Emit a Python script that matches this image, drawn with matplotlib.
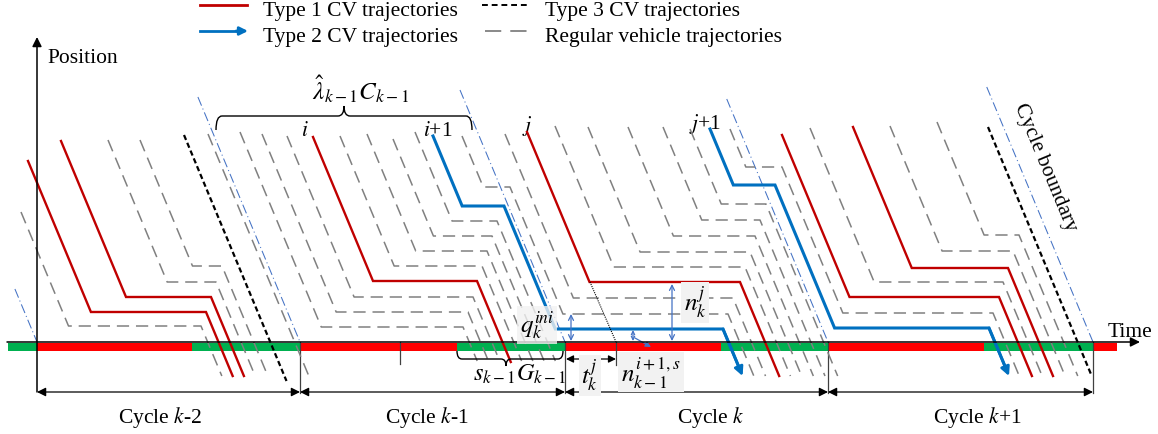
import matplotlib
matplotlib.use("Agg")
import matplotlib.pyplot as plt
from matplotlib.path import Path
from matplotlib.patches import PathPatch

plt.rcParams["font.family"] = ["Liberation Serif", "DejaVu Serif"]
plt.rcParams["mathtext.fontset"] = "stix"

W, H = 1158, 435
STOP_Y = 343        # stop line, drawn as the time axis
SLOPE = 2.4         # free-flow slope of every trajectory (drawing units)
FS = 15.5
MFS = 18            # size of the math annotations

# ---- signal plan along the time axis -------------------------------------
phase_start = [8, 37, 192, 300, 457, 565, 721, 828, 984, 1093]
phase_end = [37, 192, 300, 457, 565, 721, 828, 984, 1093, 1117]
phase_kind = ["G", "R", "G", "R", "G", "R", "G", "R", "G", "R"]

cycle_start = [37, 300, 565, 828]
cycle_end = [300, 565, 828, 1093]
cycle_names = ["Cycle $k$-2", "Cycle $k$-1", "Cycle $k$", "Cycle $k$+1"]
cycle_label_x = [160, 427, 711, 977]

# cycle-boundary trajectories: where they meet the stop line and their top
boundary_x = [37, 300, 565, 828, 1093]
boundary_top = [290, 98, 91, 100, 88]

# ---- vehicle trajectories --------------------------------------------------
# (entry time, entry position, [(queue position, release time), ...], exit position)
type1_cv = [
    (28, 162, [(313, 206)], 377),
    (61, 142, [(298, 211)], 377),
    (313, 138, [(282, 477)], 363),          # vehicle i
    (527, 133, [(283, 740)], 377),          # vehicle j
    (782, 136, [(298, 999)], 377),
    (853, 128, [(269, 1008)], 377),
]
type2_cv = [
    (433, 137, [(207, 504), (330, 723)], 377),   # vehicle i+1
    (710, 130, [(186, 775), (329, 989)], 377),   # vehicle j+1
]
type3_cv = [
    (184, 136, [], 382),
    (988, 128, [], 377),
]
regular = [
    (21, 213, [(327, 201)], 377),
    (108, 141, [(283, 216)], 377),
    (140, 141, [(267, 222)], 377),
    (208, 135, [], 380),
    (240, 133, [(328, 463)], 362),
    (262, 135, [(313, 468)], 362),
    (287, 137, [(298, 473)], 362),
    (340, 137, [(267, 482)], 362),
    (367, 135, [(252, 487)], 362),
    (393, 140, [(237, 492)], 362),
    (415, 133, [(222, 497)], 362),
    (462, 137, [(188, 510), (315, 728)], 377),
    (505, 135, [(299, 733)], 377),
    (555, 127, [(268, 745)], 377),
    (588, 128, [(253, 750)], 377),
    (628, 128, [(237, 755)], 377),
    (663, 128, [(221, 760)], 377),
    (690, 130, [(205, 766)], 377),
    (730, 130, [(168, 782), (314, 993)], 377),
    (810, 129, [(283, 1003)], 377),
    (890, 127, [(252, 1013)], 377),
    (937, 123, [(236, 1019)], 377),
]

RED = "#c00000"
BLUE = "#0070c0"
GRAY = "#808080"
SIG_RED = "#ff0000"
SIG_GREEN = "#00b050"
ANN_BLUE = "#4472c4"


def trajectory(x0, y0, stops, y_end):
    xs, ys = [x0], [y0]
    cx, cy = x0, y0
    for yq, xr in stops:
        xs += [cx + (yq - cy) / SLOPE, xr]
        ys += [yq, yq]
        cx, cy = xr, yq
    xs.append(cx + (y_end - cy) / SLOPE)
    ys.append(y_end)
    return xs, ys


def arrow(ax, p0, p1, style, color, lw, ms=12, z=6):
    ax.annotate("", xy=p1, xytext=p0,
                arrowprops=dict(arrowstyle=style, color=color, lw=lw,
                                mutation_scale=ms, shrinkA=0, shrinkB=0),
                zorder=z)


def brace(ax, x0, x1, y_end, y_bar, y_tip, xm=None, r=6, lw=1.0):
    if xm is None:
        xm = (x0 + x1) / 2
    verts = [(x0, y_end), (x0, y_bar), (x0 + r, y_bar),
             (xm - r, y_bar), (xm, y_bar), (xm, y_tip),
             (xm, y_bar), (xm + r, y_bar),
             (x1 - r, y_bar), (x1, y_bar), (x1, y_end)]
    codes = [Path.MOVETO, Path.CURVE3, Path.CURVE3,
             Path.LINETO, Path.CURVE3, Path.CURVE3,
             Path.CURVE3, Path.CURVE3,
             Path.LINETO, Path.CURVE3, Path.CURVE3]
    ax.add_patch(PathPatch(Path(verts, codes), fc="none", ec="black",
                           lw=lw, zorder=6))


fig = plt.figure(figsize=(W / 100, H / 100), dpi=100)
ax = fig.add_axes([0, 0, 1, 1])
ax.set_xlim(0, W)
ax.set_ylim(H, 0)
ax.axis("off")

# signal bar
for s, e, k in zip(phase_start, phase_end, phase_kind):
    ax.barh(348, e - s, left=s, height=8.5,
            color=SIG_GREEN if k == "G" else SIG_RED, zorder=2)

# cycle boundaries (dash-dot)
for bx, bt in zip(boundary_x, boundary_top):
    ax.plot([bx - (STOP_Y - bt) / SLOPE, bx], [bt, STOP_Y], color=ANN_BLUE,
            lw=0.75, ls=(0, (9, 3, 1, 3)), zorder=3)

# trajectories
for v in regular:
    xs, ys = trajectory(*v)
    ax.plot(xs, ys, color=GRAY, lw=1.1, ls=(0, (8, 4.5)), zorder=4)
for v in type3_cv:
    xs, ys = trajectory(*v)
    ax.plot(xs, ys, color="black", lw=1.6, ls=(0, (2.4, 1.4)), zorder=4)
for v in type1_cv:
    xs, ys = trajectory(*v)
    ax.plot(xs, ys, color=RED, lw=1.7, zorder=5, solid_joinstyle="miter")
for v in type2_cv:
    xs, ys = trajectory(*v)
    ax.plot(xs[:-1] + [xs[-1] - 2], ys[:-1] + [ys[-1] - 5], color=BLUE,
            lw=2.2, zorder=5, solid_joinstyle="miter")
    arrow(ax, (xs[-2], ys[-2]), (xs[-1], ys[-1]), "-|>", BLUE, 2.0, ms=13)

# axes
arrow(ax, (7, STOP_Y), (1140, STOP_Y), "-|>", "black", 1.1, ms=14, z=7)
arrow(ax, (37, 393), (37, 38), "-|>", "black", 1.1, ms=14, z=7)
ax.text(47, 63, "Position", fontsize=FS, va="baseline", ha="left")
ax.text(1108, 337, "Time", fontsize=FS, va="baseline", ha="left")

# cycle dimension lines
for cx in cycle_start[1:] + [cycle_end[-1]]:
    ax.plot([cx, cx], [STOP_Y, 394], color="#404040", lw=0.9, zorder=3)
for s, e, name, lx in zip(cycle_start, cycle_end, cycle_names, cycle_label_x):
    arrow(ax, (s, 393), (e, 393), "<|-|>", "black", 0.9, ms=13)
    ax.text(lx, 423, name, fontsize=FS, ha="center", va="baseline")

# small ticks under the bar
ax.plot([400, 400], [STOP_Y, 365], color="#404040", lw=0.9, zorder=3)
ax.plot([616, 616], [STOP_Y, 366], color="#404040", lw=0.9, zorder=3)

# projection of vehicle j to the stop line
ax.plot([590, 616], [283, STOP_Y], color="black", lw=0.8, ls=(0, (1, 1)),
        zorder=5)

# braces
brace(ax, 216, 472, 131, 117, 107, xm=344)
ax.text(361, 100, r"$\hat{\lambda}_{k-1}C_{k-1}$", fontsize=18, ha="center",
        va="baseline")
brace(ax, 457, 563, 352, 360, 367, xm=506, r=5)
ax.text(520, 381, r"$s_{k-1}G_{k-1}$", fontsize=17.5, ha="center",
        va="baseline")

box = dict(boxstyle="square,pad=0.1", fc="#f2f2f2", ec="none")
soft_box = dict(boxstyle="square,pad=0.1", fc="#f2f2f2", ec="none",
                alpha=0.8)

# t_k^j
arrow(ax, (566, 360), (616, 360), "<|-|>", "black", 0.9, ms=11)
ax.text(590, 385, r"$t_k^j$", fontsize=MFS, ha="center", va="baseline",
        bbox=box, zorder=7)

# queue annotations
arrow(ax, (571, 342), (571, 315), "<->", ANN_BLUE, 0.9, ms=9)
ax.text(537, 333, r"$q_k^{ini}$", fontsize=MFS, ha="center",
        va="baseline", bbox=soft_box, zorder=7)
arrow(ax, (672, 342), (672, 285), "<->", ANN_BLUE, 0.9, ms=9)
ax.text(695, 312, r"$n_k^j$", fontsize=MFS, ha="center", va="baseline",
        bbox=box, zorder=7)
arrow(ax, (633, 342), (633, 331), "<->", ANN_BLUE, 0.9, ms=6)
arrow(ax, (635, 339), (651, 348), "-|>", ANN_BLUE, 0.9, ms=8)
ax.text(651, 382, r"$n_{k-1}^{i+1,s}$", fontsize=MFS, ha="center",
        va="baseline", bbox=box, zorder=7)

# vehicle labels
ax.text(305, 136, r"$i$", fontsize=FS, ha="center", va="baseline")
ax.text(438, 136, r"$i$+1", fontsize=FS, ha="center", va="baseline")
ax.text(527, 131, r"$j$", fontsize=FS, ha="center", va="baseline")
ax.text(705, 129, r"$j$+1", fontsize=FS, ha="center", va="baseline")

# cycle boundary label
ax.text(1045, 168, "Cycle boundary", fontsize=FS, rotation=-67.4,
        rotation_mode="anchor", ha="center", va="center")

# legend
ax.plot([200, 247], [6, 6], color=RED, lw=2.0)
ax.text(263, 16, "Type 1 CV trajectories", fontsize=FS, va="baseline")
ax.plot([200, 240], [32, 32], color=BLUE, lw=2.0)
arrow(ax, (236, 32), (248, 32), "-|>", BLUE, 2.0, ms=12)
ax.text(263, 42, "Type 2 CV trajectories", fontsize=FS, va="baseline")
ax.plot([482, 527], [6, 6], color="black", lw=1.4, ls=(0, (3, 2)))
ax.text(545, 16, "Type 3 CV trajectories", fontsize=FS, va="baseline")
ax.plot([485, 530], [32, 32], color=GRAY, lw=1.3, ls=(0, (9, 5)))
ax.text(545, 42, "Regular vehicle trajectories", fontsize=FS,
        va="baseline")

fig.savefig("out.png", dpi=100)
